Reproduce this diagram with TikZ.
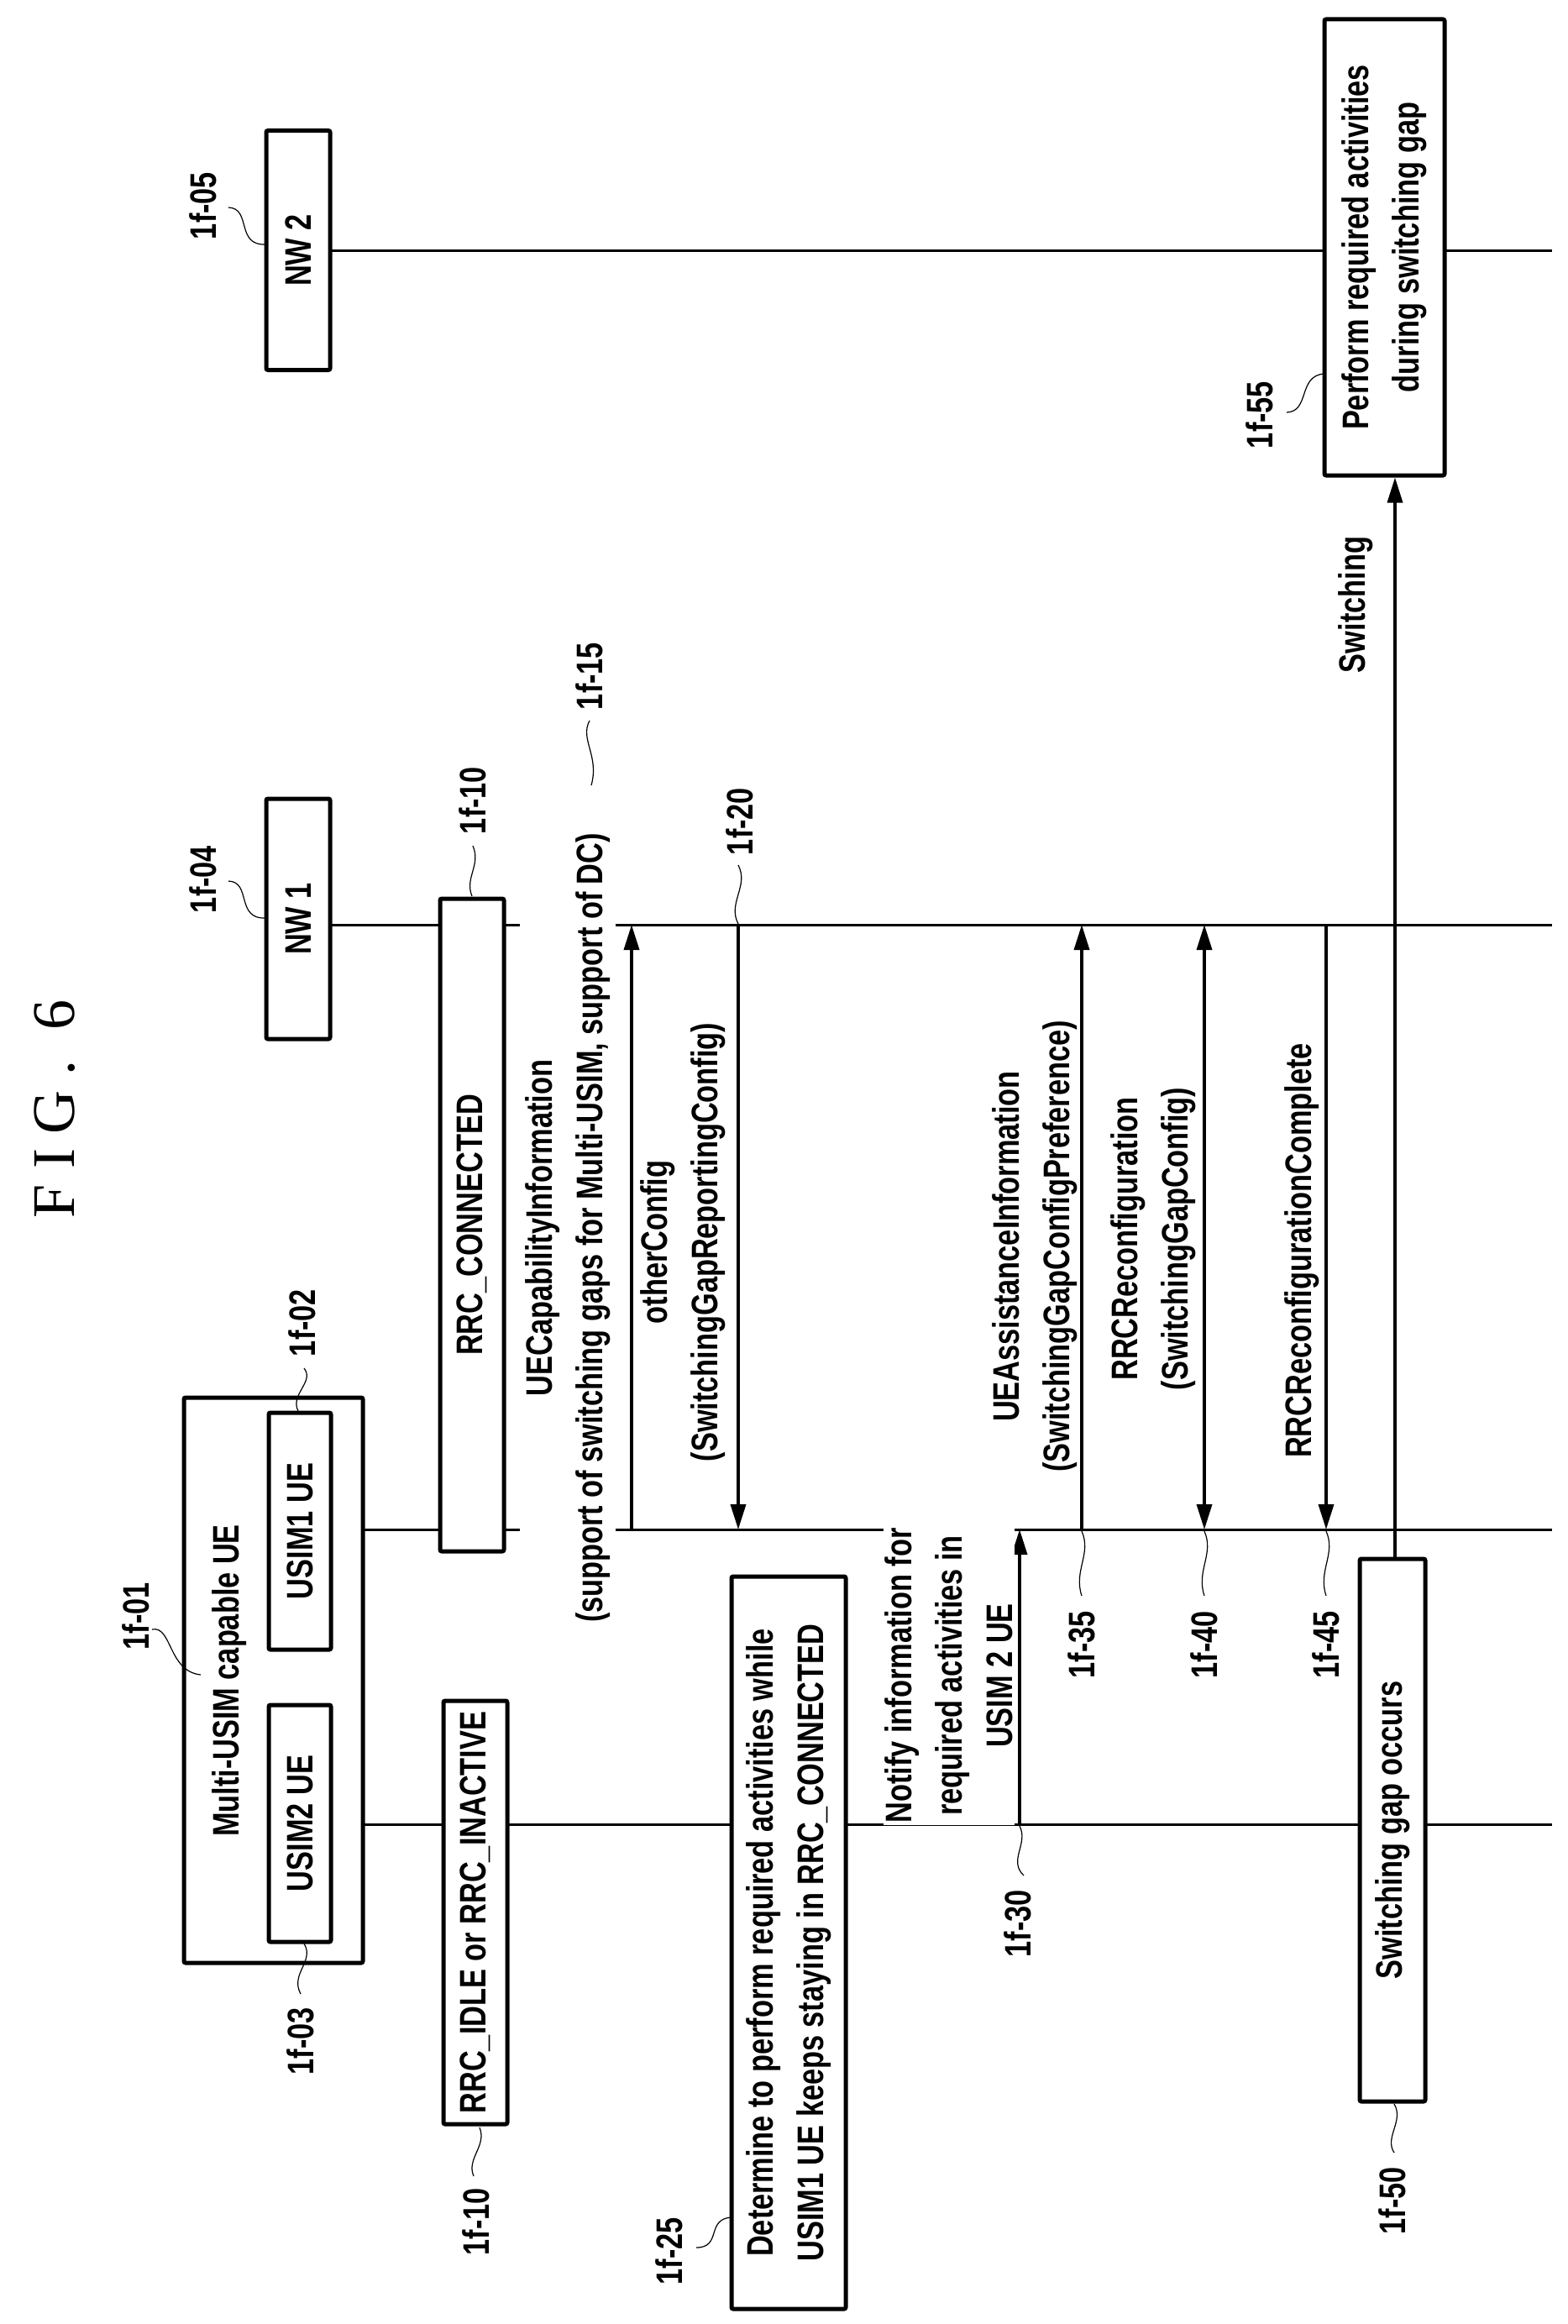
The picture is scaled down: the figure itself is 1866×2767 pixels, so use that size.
\documentclass[tikz,border=0pt]{standalone}
\usepackage{fontspec}
\setmainfont{Liberation Sans}[FakeStretch=0.78]
\newfontfamily\figfont{Liberation Serif}[LetterSpace=25]
\usetikzlibrary{arrows.meta}
\begin{document}
\begin{tikzpicture}[x=1pt,y=-1pt,
  txt/.style={rotate=90,font=\fontsize{44}{60}\selectfont\bfseries,align=center,inner sep=0pt},
  lbl/.style={rotate=90,font=\fontsize{44}{60}\selectfont\bfseries,inner sep=0pt},
  gtxt/.style={txt,fill=white,inner xsep=6pt,inner ysep=6pt},
  bx/.style={draw,line width=5pt,fill=white,rounded corners=2pt},
  life/.style={line width=3pt},
  tip/.tip={Triangle[length=30pt,width=18pt]},
  msg/.style={line width=3.5pt,-tip},
  sq/.style={line width=1.2pt}]
\useasboundingbox (0,0) rectangle (1866,2767);
\fill[white] (0,0) rectangle (1866,2767);
% lifelines
\coordinate (u2s) at (394,2172); \coordinate (u2e) at (1848,2172);
\coordinate (u1s) at (394,1821); \coordinate (u1e) at (1848,1821);
\coordinate (n1s) at (393,1101); \coordinate (n1e) at (1848,1101);
\coordinate (n2s) at (393,298);  \coordinate (n2e) at (1848,298);
\draw[life] (u2s) -- (u2e);
\draw[life] (u1s) -- (u1e);
\draw[life] (n1s) -- (n1e);
\draw[life] (n2s) -- (n2e);
% title
\node[rotate=90,font=\fontsize{72}{80}\selectfont\figfont] (fig) at (65,1320) {FIG.\ 6};
% entities
\node[bx,minimum width=213pt,minimum height=673pt] (ue) at (325.5,2000.5) {};
\node[txt] (uet) at (273,2001) {Multi-USIM capable UE};
\node[bx,minimum width=74pt,minimum height=282pt] (usim2) at (357,2171) {};
\node[txt] at (usim2) {USIM2 UE};
\node[bx,minimum width=74pt,minimum height=282pt] (usim1) at (357,1823) {};
\node[txt] at (usim1) {USIM1 UE};
\node[bx,minimum width=76pt,minimum height=286pt] (nw1) at (355,1094) {};
\node[txt] at (nw1) {NW 1};
\node[bx,minimum width=76pt,minimum height=285pt] (nw2) at (355,298) {};
\node[txt] at (nw2) {NW 2};
% states
\node[bx,minimum width=76pt,minimum height=504pt] (idle) at (566,2277) {};
\node[txt] at (idle) {RRC\_IDLE or RRC\_INACTIVE};
\node[bx,minimum width=76pt,minimum height=777pt] (conn) at (562,1458.5) {};
\node[txt] at (conn) {RRC\_CONNECTED};
% messages
\coordinate (m15a) at (752,1821); \coordinate (m15b) at (752,1101);
\draw[msg] (m15a) -- (m15b);
\node[gtxt] (t15) at (676,1462) {UECapabilityInformation\\(support of switching gaps for Multi-USIM, support of DC)};
\coordinate (m20a) at (879,1101); \coordinate (m20b) at (879,1821);
\draw[msg] (m20a) -- (m20b);
\node[txt] (t20) at (813,1479) {otherConfig\\(SwitchingGapReportingConfig)};
\node[bx,minimum width=136pt,minimum height=872pt] (det) at (939,2313) {};
\node[txt] at (det) {Determine to perform required activities while\\USIM1 UE keeps staying in RRC\_CONNECTED};
\coordinate (m30a) at (1214,2172); \coordinate (m30b) at (1214,1821);
\draw[msg] (m30a) -- (m30b);
\node[gtxt,inner xsep=3pt,inner ysep=2pt] (t30) at (1130,1995) {Notify information for\\required activities in\\USIM 2 UE};
\coordinate (m35a) at (1288,1821); \coordinate (m35b) at (1288,1101);
\draw[msg] (m35a) -- (m35b);
\node[txt] (t35) at (1232,1484) {UEAssistanceInformation\\(SwitchingGapConfigPreference)};
\coordinate (m40a) at (1434,1101); \coordinate (m40b) at (1434,1821);
\draw[msg,tip-tip] (m40a) -- (m40b);
\node[txt] (t40) at (1373,1475) {RRCReconfiguration\\(SwitchingGapConfig)};
\coordinate (m45a) at (1579,1101); \coordinate (m45b) at (1579,1821);
\draw[msg] (m45a) -- (m45b);
\node[txt] (t45) at (1550,1489) {RRCReconfigurationComplete};
\node[bx,minimum width=78pt,minimum height=646pt] (gap) at (1658,2179) {};
\node[txt] at (gap) {Switching gap occurs};
\node[bx,minimum width=143pt,minimum height=543pt] (perf) at (1648.5,294.5) {};
\node[txt] at (perf) {Perform required activities\\during switching gap};
\draw[msg] (gap.north -| 1661,0) -- (perf.south -| 1661,0);
\node[txt] (tsw) at (1614,720) {Switching};
% reference labels
\node[lbl] (l01) at (162,1924) {1f-01};
\draw[sq] (181,1940) .. controls (205,1935) and (200,1990) .. (239,1994);
\node[lbl] (l02) at (360,1575) {1f-02};
\draw[sq] (362,1629) .. controls (375,1645) and (345,1660) .. (355,1680);
\node[lbl] (l03) at (358,2430) {1f-03};
\draw[sq] (362,2314) .. controls (375,2335) and (345,2350) .. (358,2374);
\node[lbl] (l04) at (242,1047) {1f-04};
\draw[sq] (272,1049) .. controls (300,1050) and (280,1095) .. (317,1093);
\node[lbl] (l05) at (242,245) {1f-05};
\draw[sq] (272,247) .. controls (300,248) and (280,293) .. (317,291);
\node[lbl] (l10a) at (567,2645) {1f-10};
\draw[sq] (571,2533) .. controls (580,2555) and (555,2570) .. (564,2591);
\node[lbl] (l10b) at (563,953) {1f-10};
\draw[sq] (563,1007) .. controls (573,1030) and (553,1045) .. (562,1067);
\node[lbl] (l15) at (702,805) {1f-15};
\draw[sq] (702,858) .. controls (690,880) and (714,900) .. (704,935);
\node[lbl] (l20) at (881,978) {1f-20};
\draw[sq] (879,1030) .. controls (892,1055) and (866,1075) .. (879,1100);
\node[lbl] (l25) at (797,2680) {1f-25};
\draw[sq] (829,2676) .. controls (860,2676) and (840,2642) .. (871,2640);
\node[lbl] (l30) at (1212,2290) {1f-30};
\draw[sq] (1219,2233) .. controls (1200,2215) and (1225,2195) .. (1214,2174);
\node[lbl] (l35) at (1288,1958) {1f-35};
\draw[sq] (1288,1900) .. controls (1278,1870) and (1300,1850) .. (1288,1823);
\node[lbl] (l40) at (1434,1958) {1f-40};
\draw[sq] (1434,1900) .. controls (1424,1870) and (1446,1850) .. (1434,1823);
\node[lbl] (l45) at (1579,1958) {1f-45};
\draw[sq] (1579,1900) .. controls (1569,1870) and (1591,1850) .. (1579,1823);
\node[lbl] (l50) at (1658,2620) {1f-50};
\draw[sq] (1660,2505) .. controls (1672,2525) and (1648,2545) .. (1660,2563);
\node[lbl] (l55) at (1500,494) {1f-55};
\draw[sq] (1532,491) .. controls (1560,490) and (1545,447) .. (1577,445);
\end{tikzpicture}
\end{document}
